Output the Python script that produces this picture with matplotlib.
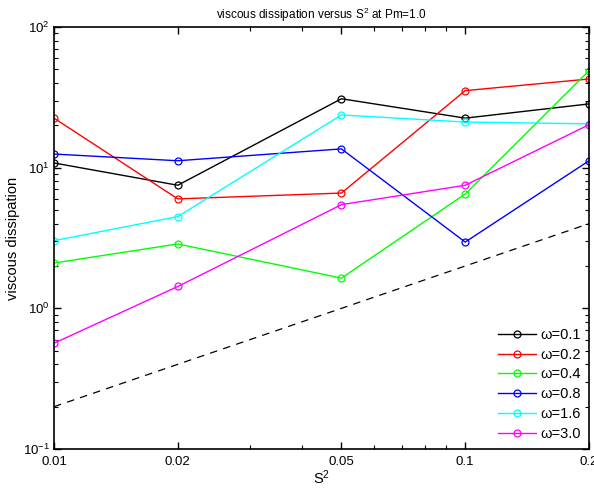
import matplotlib
matplotlib.use("Agg")
import matplotlib.pyplot as plt
import numpy as np
from matplotlib.ticker import FixedLocator, FixedFormatter, LogLocator, NullFormatter

plt.rcParams['font.family'] = ['Liberation Sans', 'DejaVu Sans']
plt.rcParams['mathtext.fontset'] = 'custom'
plt.rcParams['mathtext.rm'] = 'Liberation Sans'
plt.rcParams['mathtext.it'] = 'Liberation Sans'

S2 = [0.01, 0.02, 0.05, 0.1, 0.2]
labels = ['ω=0.1', 'ω=0.2', 'ω=0.4', 'ω=0.8', 'ω=1.6', 'ω=3.0']
colors = ['#000000', '#ff0000', '#00ff00', '#0000ff', '#00ffff', '#ff00ff']
w01 = [10.8, 7.5, 30.9, 22.5, 28.4]
w02 = [22.5, 6.0, 6.6, 35.3, 42.7]
w04 = [2.10, 2.87, 1.64, 6.5, 48.9]
w08 = [12.5, 11.2, 13.6, 2.96, 11.2]
w16 = [3.03, 4.49, 23.7, 21.1, 20.5]
w30 = [0.565, 1.43, 5.46, 7.5, 20.2]
series = [w01, w02, w04, w08, w16, w30]
ref_coef = 20.0
ref_x = [0.01, 0.2]

fig = plt.figure(figsize=(5.94, 4.91), dpi=100)
ax = fig.add_axes([0.0909, 0.0855, 0.9007, 0.8595])

for y, c, lab in zip(series, colors, labels):
    ax.plot(S2, y, '-o', color=c, mfc='none', mec=c, ms=5, mew=0.9, lw=1, label=lab)
ax.plot(ref_x, [ref_coef * v for v in ref_x], '--', color='k', lw=0.9, dashes=(6, 5))

ax.set_xscale('log')
ax.set_yscale('log')
ax.set_xlim(0.01, 0.2)
ax.set_ylim(0.1, 100)

ax.xaxis.set_major_locator(FixedLocator(S2))
ax.xaxis.set_major_formatter(FixedFormatter(['0.01', '0.02', '0.05', '0.1', '0.2']))
ax.xaxis.set_minor_locator(FixedLocator([0.03, 0.04, 0.06, 0.07, 0.08, 0.09]))
ax.xaxis.set_minor_formatter(NullFormatter())
ax.yaxis.set_major_locator(FixedLocator([0.1, 1, 10, 100]))
ax.yaxis.set_major_formatter(FixedFormatter([r'$10^{-1}$', r'$10^{0}$', r'$10^{1}$', r'$10^{2}$']))
ax.yaxis.set_minor_locator(LogLocator(base=10, subs=np.arange(2, 10)))
ax.yaxis.set_minor_formatter(NullFormatter())

ax.tick_params(which='both', direction='in', top=True, right=True, labelsize=9.5)
ax.tick_params(axis='x', which='major', pad=5)
ax.tick_params(axis='y', which='major', pad=3)
ax.tick_params(which='major', length=5, width=1)
ax.tick_params(which='minor', length=3, width=0.8)
for s in ax.spines.values():
    s.set_linewidth(1.2)

ax.set_title(r'viscous dissipation versus S$^2$ at Pm=1.0', fontsize=8.5, pad=6)
ax.set_xlabel(r'S$^2$', fontsize=10.5, labelpad=0)
ax.set_ylabel('viscous dissipation', fontsize=10.5, labelpad=2)

ax.legend(loc='lower right', frameon=False, fontsize=10.5, handlelength=2.6,
          handletextpad=0.3, labelspacing=0.4, borderaxespad=0.25, borderpad=0.3)

fig.savefig('out.png', dpi=100)
